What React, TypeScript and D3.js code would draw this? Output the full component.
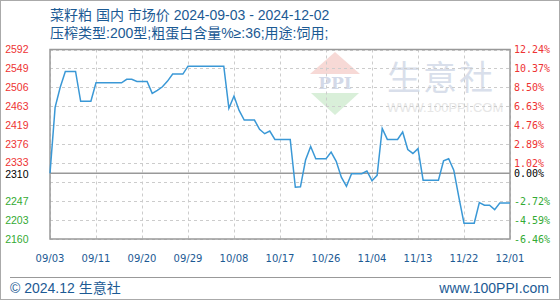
import React from 'react';
import * as d3 from 'd3';

// daily prices 2024-09-03 .. 2024-12-02
const prices = [
  2310, 2460, 2506, 2542, 2542, 2542, 2474, 2474, 2474, 2516,
  2516, 2516, 2516, 2516, 2516, 2524, 2524, 2519, 2519, 2519,
  2492, 2499, 2507, 2520, 2536, 2536, 2536, 2554, 2554, 2554,
  2554, 2554, 2554, 2554, 2554, 2458, 2486, 2453, 2431, 2431,
  2431, 2410, 2400, 2406, 2387, 2387, 2387, 2387, 2278, 2279,
  2340, 2371, 2343, 2343, 2343, 2358, 2337, 2301, 2280, 2309,
  2309, 2309, 2315, 2293, 2305, 2412, 2387, 2387, 2387, 2404,
  2364, 2355, 2366, 2294, 2294, 2294, 2294, 2338, 2343, 2317,
  2255, 2196, 2196, 2196, 2243, 2237, 2237, 2227, 2242, 2242,
  2242,
];
const xLabels = ['09/03', '09/11', '09/20', '09/29', '10/08', '10/17', '10/26', '11/04', '11/13', '11/22', '12/01'];
const yGridValues = [2160, 2203.2, 2246.4, 2289.6, 2332.8, 2376, 2419.2, 2462.4, 2505.6, 2548.8, 2592];
const leftLabels = ['2160', '2203', '2247', '', '2333', '2376', '2419', '2463', '2506', '2549', '2592'];
const rightLabels = ['-6.46%', '-4.59%', '-2.72%', '', '1.02%', '2.89%', '4.76%', '6.63%', '8.50%', '10.37%', '12.24%'];
const baseValue = 2310;
const baseLeftLabel = '2310';
const baseRightLabel = '0.00%';

const W = 560, H = 300;
const PL = 50, PR = 510, PT = 49.5, PB = 239;

export default function App() {
  const x = d3.scaleLinear().domain([0, prices.length - 1]).range([PL, PR]);
  const y = d3.scaleLinear().domain([2160, 2592]).range([PB, PT]);
  const line = d3.line<number>().x((_, i) => x(i)).y((d) => y(d));
  const labelStep = (prices.length - 1) / (xLabels.length - 1);
  const red = '#ee3333', green = '#33aa33';
  const blue = '#1c5a94';
  const col = (v: number) => (v > baseValue ? red : v < baseValue ? green : '#000');
  const leftFont = '"Liberation Sans", Arial, sans-serif';
  const monoFont = '"DejaVu Sans Mono", monospace';
  const cjk = '"Liberation Sans", "Noto Sans CJK SC", sans-serif';

  return (
    <svg width={W} height={H} style={{ position: 'absolute', left: 0, top: 0 }} xmlns="http://www.w3.org/2000/svg">
      <rect x={0.5} y={0.5} width={W - 1} height={H - 1} fill="#fff" stroke="#aaa" />
      {/* watermark */}
      <g>
        <path d={`M335,52 L360,74 L310,74 Z`} fill="#f7d9d6" />
        <text x={335} y={89} textAnchor="middle" fontFamily='"DejaVu Serif", serif' fontWeight="bold" fontSize={17} fill="#d3d9e8">PPI</text>
        <path d={`M311,93 L359,93 L335,115 Z`} fill="#d9efd9" />
        <text x={387} y={90} fontFamily='"Noto Sans CJK SC", sans-serif' fontSize={34} fill="#d9dfeb" letterSpacing={2}>生意社</text>
        <text x={387} y={112} fontFamily={leftFont} fontSize={13} fill="#e6e6e6">WWW.100PPI.COM</text>
      </g>
      {/* grid */}
      {yGridValues.map((v, i) => (
        <line key={'h' + i} x1={PL} x2={PR} y1={Math.round(y(v)) + 0.5} y2={Math.round(y(v)) + 0.5} stroke="#cccccc" strokeDasharray="3,3" />
      ))}
      {xLabels.map((_, i) => (
        <line key={'v' + i} x1={Math.round(x(i * labelStep)) + 0.5} x2={Math.round(x(i * labelStep)) + 0.5} y1={PT} y2={PB} stroke="#cccccc" strokeDasharray="3,3" />
      ))}
      {/* base line */}
      <line x1={PL} x2={PR} y1={y(baseValue)} y2={y(baseValue)} stroke="#999" strokeWidth={1.5} />
      {/* frame */}
      <rect x={PL} y={PT} width={PR - PL} height={PB - PT} fill="none" stroke="#999" strokeWidth={1.5} />
      {/* data line */}
      <path d={line(prices) || ''} fill="none" stroke="#3a98d6" strokeWidth={1.5} />
      {/* left labels */}
      {yGridValues.map((v, i) => leftLabels[i] ? (
        <text key={'l' + i} x={28.5} y={y(v) - (i === 4 ? 0.8 : 0)} dy="0.35em" textAnchor="end" fontFamily={leftFont} fontSize={10.5} fill={col(v)}>{leftLabels[i]}</text>
      ) : null)}
      <text x={28.5} y={y(baseValue) + 0.8} dy="0.35em" textAnchor="end" fontFamily={leftFont} fontSize={10.5} fill="#000">{baseLeftLabel}</text>
      {/* right labels */}
      {yGridValues.map((v, i) => rightLabels[i] ? (
        <text key={'r' + i} x={514} y={y(v)} dy="0.35em" fontFamily={monoFont} fontSize={10} fill={col(v)}>{rightLabels[i]}</text>
      ) : null)}
      <text x={514} y={y(baseValue)} dy="0.35em" fontFamily={monoFont} fontSize={10} fill="#000">{baseRightLabel}</text>
      {/* x labels */}
      {xLabels.map((t, i) => (
        <text key={'x' + i} x={x(i * labelStep)} y={258} dy="0.35em" textAnchor="middle" fontFamily='"DejaVu Sans", sans-serif' fontSize={10} fill={blue}>{t}</text>
      ))}
      {/* title */}
      <text x={50} y={19.5} fontFamily={cjk} fontSize={14} fill={blue}>菜籽粕 国内 市场价 2024-09-03 - 2024-12-02</text>
      <text x={50} y={38} fontFamily={cjk} fontSize={14} fill={blue}>压榨类型:200型;粗蛋白含量%≥:36;用途:饲用;</text>
      {/* footer */}
      <line x1={10} x2={551} y1={277.5} y2={277.5} stroke="#999" />
      <text x={10} y={293} fontFamily={cjk} fontSize={14} fill={blue}>© 2024.12 生意社</text>
      <text x={549} y={293} textAnchor="end" fontFamily={leftFont} fontSize={14} fill={blue}>www.100PPI.com</text>
    </svg>
  );
}
